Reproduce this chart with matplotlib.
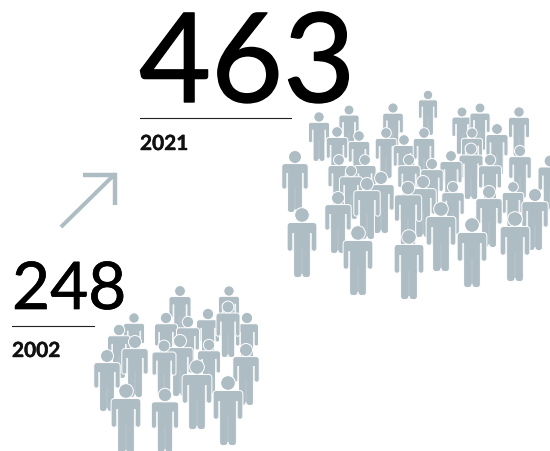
import matplotlib
matplotlib.use('Agg')
import matplotlib.pyplot as plt
import matplotlib.patheffects as pe
from matplotlib.patches import PathPatch, Circle
from matplotlib.path import Path
from matplotlib.transforms import Affine2D

# nombres et années affichés
YEARS = ['2002', '2021']
VALUES = [248, 463]

GREY = '#aebcc4'
INK = '#000000'

# foule de 2021 : tête (x, y) et hauteur tête->pieds, du fond vers le devant
CROWD_2021_X = [428, 393, 349, 319, 462, 480, 519, 497, 472, 337, 359, 386, 404, 424, 471, 520, 451, 490, 409, 432, 339, 365, 550, 295, 351, 381, 367, 423, 453, 338, 408, 513, 489, 535, 302, 441, 472, 515, 358, 409]
CROWD_2021_Y = [96, 109, 111, 118, 113, 109, 113, 130, 134, 133, 137, 134, 141, 134, 150, 152, 157, 161, 161, 165, 161, 161, 162, 158, 172, 179, 185, 183, 188, 199, 189, 188, 193, 196, 216, 210, 226, 220, 234, 238]
CROWD_2021_H = [40, 43, 42, 44, 42, 42, 44, 46, 44, 45, 45, 45, 45, 45, 50, 47, 46, 48, 47, 47, 46, 46, 50, 55, 48, 55, 55, 55, 47, 55, 57, 45, 55, 55, 62, 62, 62, 62, 62, 62]

# foule de 2002
CROWD_2002_X = [180, 229, 134, 166, 208, 188, 247, 228, 119, 180, 164, 209, 135, 107, 246, 197, 228, 126, 165]
CROWD_2002_Y = [292, 292, 319, 319, 315, 323, 319, 308, 331, 342, 347, 346, 343, 357, 351, 368, 384, 392, 396]
CROWD_2002_H = [46, 44, 44, 48, 48, 48, 48, 50, 48, 55, 50, 48, 55, 55, 55, 62, 62, 62, 57]


# silhouette pour une hauteur de 1, origine au centre de la tête
def body_path():
    M, L, C = Path.MOVETO, Path.LINETO, Path.CURVE3
    right = [
        (L, (0.18, 0.12)), (C, (0.24, 0.12)), (C, (0.24, 0.18)),
        (L, (0.24, 0.54)), (C, (0.24, 0.585)), (C, (0.195, 0.585)), (C, (0.15, 0.585)), (C, (0.15, 0.54)),
        (L, (0.15, 0.3)), (L, (0.135, 0.3)),
        (L, (0.135, 0.955)), (C, (0.135, 1.01)), (C, (0.075, 1.01)), (C, (0.0, 1.01)), (C, (0.0, 0.955)),
    ]
    verts = [(0, 0.12)]
    codes = [M]
    for code, pt in right:
        verts.append(pt)
        codes.append(code)
    # moitié gauche : on repart des pieds vers l'épaule
    for i in range(len(right) - 2, -1, -1):
        verts.append((-right[i][1][0], right[i][1][1]))
        codes.append(right[i + 1][0])
    verts.append((0, 0.12))
    codes.append(right[0][0])
    return Path(verts, codes)


BODY = body_path()


def draw_person(ax, x, y, h, z):
    tr = Affine2D().scale(h).translate(x, y) + ax.transData
    ax.add_patch(PathPatch(BODY, fc=GREY, ec='white', lw=0.7, joinstyle='round', transform=tr, zorder=z))
    # fentes bras/torse et jambes
    for sx in (-0.142, 0.142):
        ax.plot([x + sx * h, x + sx * h], [y + 0.3 * h, y + 0.57 * h], color='#c8d2d7', lw=0.35, zorder=z + 0.1)
    ax.plot([x, x], [y + 0.55 * h, y + 0.99 * h], color='#c8d2d7', lw=0.35, zorder=z + 0.1)
    ax.add_patch(Circle((x, y), 0.118 * h, fc=GREY, ec='white', lw=0.7, zorder=z + 0.2))


def main():
    fig = plt.figure(figsize=(5.5, 4.52), dpi=100)
    ax = fig.add_axes([0, 0, 1, 1])
    ax.set_xlim(0, 550)
    ax.set_ylim(452, 0)
    ax.axis('off')

    z = 2
    for x, y, h in zip(CROWD_2002_X, CROWD_2002_Y, CROWD_2002_H):
        draw_person(ax, x, y, h, z)
        z += 1
    for x, y, h in zip(CROWD_2021_X, CROWD_2021_Y, CROWD_2021_H):
        draw_person(ax, x, y, h, z)
        z += 1

    # flèche de hausse
    ax.plot([61, 115], [228, 175], color=GREY, lw=2.9, solid_capstyle='butt')
    ax.plot([83, 114.5, 114.5], [175.5, 175.5, 206], color=GREY, lw=3.2,
            solid_joinstyle='miter', solid_capstyle='butt')

    ax.text(139, 103, str(VALUES[1]), family='Lato', fontsize=89.5, color=INK, va='baseline', ha='left', zorder=200,
            path_effects=[pe.withStroke(linewidth=1.0, foreground=INK)])
    ax.plot([140, 291], [118.6, 118.6], color='#222222', lw=0.8)
    ax.text(140, 151, YEARS[1], family='Lato', weight='bold', fontsize=15, color='#111111', va='baseline',
            path_effects=[pe.withStroke(linewidth=0.3, foreground='#111111')])

    ax.text(12, 310, str(VALUES[0]), family='Lato', fontsize=47.3, color=INK, va='baseline', ha='left', zorder=200,
            path_effects=[pe.withStroke(linewidth=0.5, foreground=INK)])
    ax.plot([12, 94], [326.6, 326.6], color='#222222', lw=0.8)
    ax.text(12, 358, YEARS[0], family='Lato', weight='bold', fontsize=15, color='#111111', va='baseline',
            path_effects=[pe.withStroke(linewidth=0.3, foreground='#111111')])

    fig.savefig('out.png', dpi=100)


if __name__ == "__main__":
    main()
